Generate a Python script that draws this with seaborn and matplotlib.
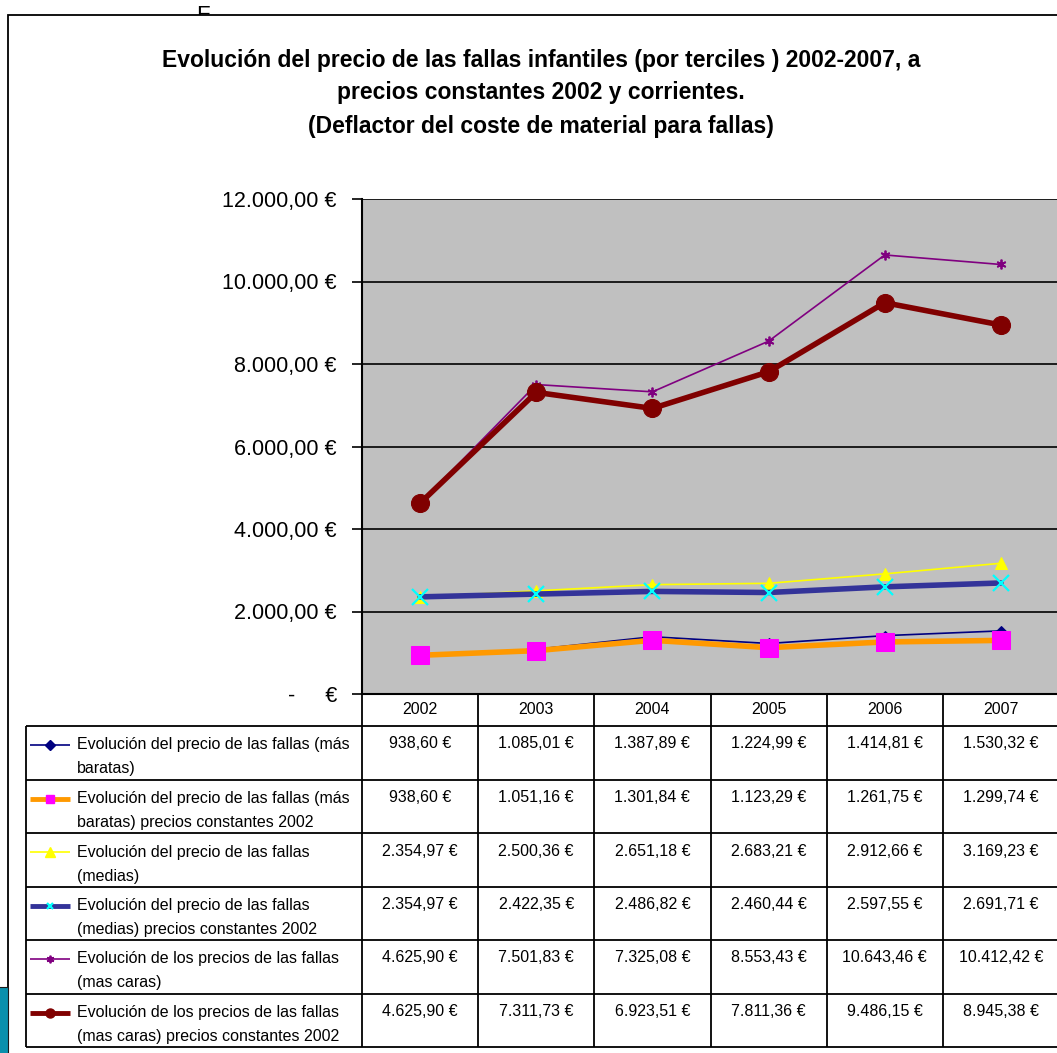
import numpy as np
import pandas as pd
import matplotlib
matplotlib.use("Agg")
import matplotlib.pyplot as plt
import seaborn as sns
from matplotlib.patches import Rectangle

years = ["2002", "2003", "2004", "2005", "2006", "2007"]
baratas = [938.60, 1085.01, 1387.89, 1224.99, 1414.81, 1530.32]
baratas_const = [938.60, 1051.16, 1301.84, 1123.29, 1261.75, 1299.74]
medias = [2354.97, 2500.36, 2651.18, 2683.21, 2912.66, 3169.23]
medias_const = [2354.97, 2422.35, 2486.82, 2460.44, 2597.55, 2691.71]
caras = [4625.90, 7501.83, 7325.08, 8553.43, 10643.46, 10412.42]
caras_const = [4625.90, 7311.73, 6923.51, 7811.36, 9486.15, 8945.38]

labels = [
    "Evolución del precio de las fallas (más\nbaratas)",
    "Evolución del precio de las fallas (más\nbaratas) precios constantes 2002",
    "Evolución del precio de las fallas\n(medias)",
    "Evolución del precio de las fallas\n(medias) precios constantes 2002",
    "Evolución de los precios de las fallas\n(mas caras)",
    "Evolución de los precios de las fallas\n(mas caras) precios constantes 2002",
]
series = [baratas, baratas_const, medias, medias_const, caras, caras_const]

# style of each series (line colour, width, marker, marker colour, size)
styles = [
    dict(color="#000080", lw=1.2, marker="D", mfc="#000080", mec="#000080", ms=5),
    dict(color="#FF9900", lw=4.0, marker="s", mfc="#FF00FF", mec="#FF00FF", ms=12.5),
    dict(color="#FFFF00", lw=1.2, marker="^", mfc="#FFFF00", mec="#FFFF00", ms=8),
    dict(color="#333399", lw=4.0, marker="x", mfc="#00FFFF", mec="#00FFFF", ms=12, mew=1.6),
    dict(color="#800080", lw=1.2, marker=(6, 2, 0), mfc="#800080", mec="#800080", ms=7, mew=1.3),
    dict(color="#800000", lw=4.0, marker="o", mfc="#800000", mec="#800000", ms=13),
]
legend_ms = [5.5, 6, 7, 4.5, 5.5, 6.5]

sns.set_style("white")
plt.rcParams["font.family"] = ["Liberation Sans", "DejaVu Sans"]
plt.rcParams["text.color"] = "black"
plt.rcParams["ytick.color"] = "black"
plt.rcParams["xtick.color"] = "black"

W, H = 1057, 1053
fig = plt.figure(figsize=(W / 100, H / 100), dpi=100)

# overlay in pixel coords for frame, title and table
ov = fig.add_axes([0, 0, 1, 1])
ov.set_xlim(0, W)
ov.set_ylim(H, 0)
ov.axis("off")

ov.text(196, 5, "F", fontsize=16, va="top", ha="left", zorder=0)
ov.add_patch(Rectangle((8, 15), 1200, 1200, facecolor="white", edgecolor="black", lw=1.3, zorder=1))
ov.add_patch(Rectangle((-2, 987), 9.5, 80, facecolor="#0A90AC", edgecolor="#1a1a1a", lw=0.8, zorder=2))

title_lines = [
    "Evolución del precio de las fallas infantiles (por terciles ) 2002-2007, a",
    "precios constantes 2002 y corrientes.",
    "(Deflactor del coste de material para fallas)",
]
for yy, t in zip([60, 93, 127], title_lines):
    ov.text(541, yy, t, fontsize=16.5, fontweight="bold", ha="center", va="center", zorder=3)

# main plot
ax = fig.add_axes([362 / W, 1 - 694 / H, (1059 - 362) / W, (694 - 199) / H])
ax.set_zorder(2)
ax.set_facecolor("#C0C0C0")
x = np.arange(len(years))
for vals, st in zip(series, styles):
    sns.lineplot(x=x, y=vals, ax=ax, clip_on=False, **st)

ax.set_xlim(-0.5, 5.5)
ax.set_ylim(0, 12000)
ax.set_xticks([])
ax.set_yticks(np.arange(0, 12001, 2000))


def euro(v):
    if v == 0:
        return "-     €"
    s = f"{v:,.2f}".replace(",", "X").replace(".", ",").replace("X", ".")
    return s + " €"


ax.set_yticklabels([euro(v) for v in ax.get_yticks()])
ax.yaxis.grid(True, color="black", lw=1.2)
ax.set_axisbelow(True)
ax.tick_params(axis="y", left=True, length=7, width=1.2, pad=11, labelsize=15.5,
               direction="out", colors="black")
for side in ["top", "right"]:
    ax.spines[side].set_visible(False)
ax.spines["left"].set_linewidth(1.5)
ax.spines["bottom"].set_linewidth(1.5)
ax.spines["left"].set_color("black")
ax.spines["bottom"].set_color("black")
ax.set_xlabel("")
ax.set_ylabel("")

# data table under the plot
fig.canvas.draw()
edges = [ax.transData.transform((i - 0.5, 0))[0] for i in range(len(years) + 1)]
top_tab = 694
head_bot = 726
row_h = 53.5
n = len(series)
bottom = head_bot + n * row_h
lk = dict(color="black", lw=1.3, zorder=3, solid_capstyle="butt")

for e in edges:
    ov.plot([e, e], [top_tab, bottom], **lk)
ov.plot([26, 26], [head_bot, bottom], **lk)
for i in range(n + 1):
    yy = head_bot + i * row_h
    ov.plot([26, edges[-1]], [yy, yy], **lk)

for j, yr in enumerate(years):
    cx = (edges[j] + edges[j + 1]) / 2
    ov.text(cx, (top_tab + head_bot) / 2, yr, fontsize=11.5, ha="center", va="center", zorder=3)

for i, (vals, st, lab) in enumerate(zip(series, styles, labels)):
    rt = head_bot + i * row_h
    for j, v in enumerate(vals):
        cx = (edges[j] + edges[j + 1]) / 2
        ov.text(cx, rt + 18, euro(v), fontsize=11.5, ha="center", va="center", zorder=3)
    l1, l2 = lab.split("\n")
    ov.text(77, rt + 19, l1, fontsize=11.5, ha="left", va="center", zorder=3)
    ov.text(77, rt + 43, l2, fontsize=11.5, ha="left", va="center", zorder=3)
    ov.plot([30, 70], [rt + 19, rt + 19], color=st["color"], lw=min(st["lw"], 3.5), zorder=3,
            solid_capstyle="butt")
    ov.plot([50], [rt + 19], marker=st["marker"], mfc=st["mfc"], mec=st["mec"],
            ms=legend_ms[i], mew=st.get("mew", 1.0), zorder=4)

fig.savefig("out.png", dpi=100, facecolor="white")
